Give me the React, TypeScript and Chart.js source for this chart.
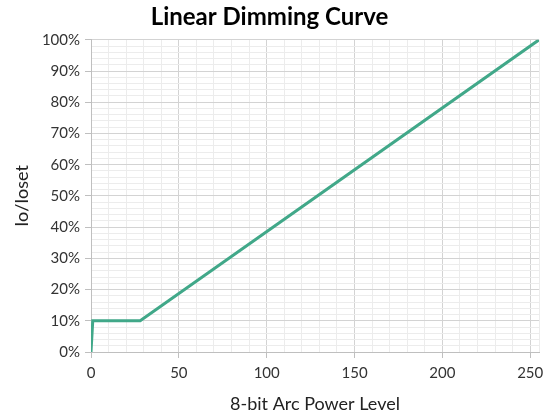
import React, { useEffect, useRef } from "react";
import { Chart, registerables } from "chart.js";

Chart.register(...registerables);

const levels = [0, 1, 28, 255];
const outputPct = [0, 10, 10, 100];
const xTickValues = [0, 10, 20, 30, 40, 50, 60, 70, 80, 90, 100, 110, 120, 130, 140, 150, 160, 170, 180, 190, 200, 210, 220, 230, 240, 250, 255];
const chartTitle = "Linear Dimming Curve";
const xTitle = "8-bit Arc Power Level";
const yTitle = "Io/Ioset";

const FONT = "Lato, 'Open Sans', sans-serif";

export default function App() {
  const ref = useRef<HTMLCanvasElement>(null);
  useEffect(() => {
    document.body.style.margin = "0";
    const ctx = ref.current!;
    const chart = new Chart(ctx, {
      type: "line",
      data: {
        datasets: [
          {
            data: levels.map((x, i) => ({ x, y: outputPct[i] })),
            borderColor: "#41a889",
            borderWidth: 3,
            pointRadius: 0,
            tension: 0,
          },
        ],
      },
      options: {
        animation: false,
        responsive: false,
        layout: { padding: { left: 0, right: 8, top: 0, bottom: 0 } },
        plugins: {
          legend: { display: false },
          tooltip: { enabled: false },
          title: {
            display: true,
            text: chartTitle,
            color: "#000",
            font: { family: FONT, size: 24, weight: "bold" },
            padding: { top: 3, bottom: 8 },
          },
        },
        scales: {
          x: {
            type: "linear",
            min: 0,
            max: 255,
            afterBuildTicks: (s: any) => {
              s.ticks = xTickValues.map((v) => ({ value: v }));
            },
            afterFit: (s: any) => {
              s.height = 64;
            },
            border: { color: "#bfbfbf", width: 1 },
            grid: {
              color: (c: any) => (c.tick && c.tick.value % 50 === 0 ? "#d3d3d3" : "#ececec"),
              tickColor: (c: any) => (c.tick && c.tick.value % 50 === 0 ? "#bfbfbf" : "rgba(0,0,0,0)"),
              tickLength: 6,
            },
            ticks: {
              autoSkip: false,
              maxRotation: 0,
              padding: 6,
              color: "#333",
              font: { family: FONT, size: 15 },
              callback: (v: any) => (Number(v) % 50 === 0 ? String(v) : ""),
            },
            title: {
              display: true,
              text: xTitle,
              color: "#222",
              font: { family: FONT, size: 18 },
              padding: { top: 0, bottom: 1 },
            },
          },
          y: {
            type: "linear",
            min: 0,
            max: 100,
            afterFit: (s: any) => {
              s.width = 91;
            },
            border: { color: "#bfbfbf", width: 1 },
            grid: {
              color: (c: any) => (c.tick && c.tick.value % 10 === 0 ? "#d3d3d3" : "#ececec"),
              tickColor: (c: any) => (c.tick && c.tick.value % 10 === 0 ? "#bfbfbf" : "rgba(0,0,0,0)"),
              tickLength: 6,
            },
            ticks: {
              stepSize: 2,
              maxTicksLimit: 1000,
              autoSkip: false,
              padding: 5,
              color: "#333",
              font: { family: FONT, size: 15 },
              callback: (v: any) => (Number(v) % 10 === 0 ? v + "%" : ""),
            },
            title: {
              display: true,
              text: yTitle,
              color: "#222",
              font: { family: FONT, size: 18 },
              padding: { top: 11, bottom: 0 },
            },
          },
        },
      },
    });
    return () => chart.destroy();
  }, []);
  return (
    <div style={{ position: "absolute", left: 0, top: 0, width: 547, height: 416, background: "#fff" }}>
      <canvas ref={ref} width={547} height={416} style={{ width: 547, height: 416 }} />
    </div>
  );
}
